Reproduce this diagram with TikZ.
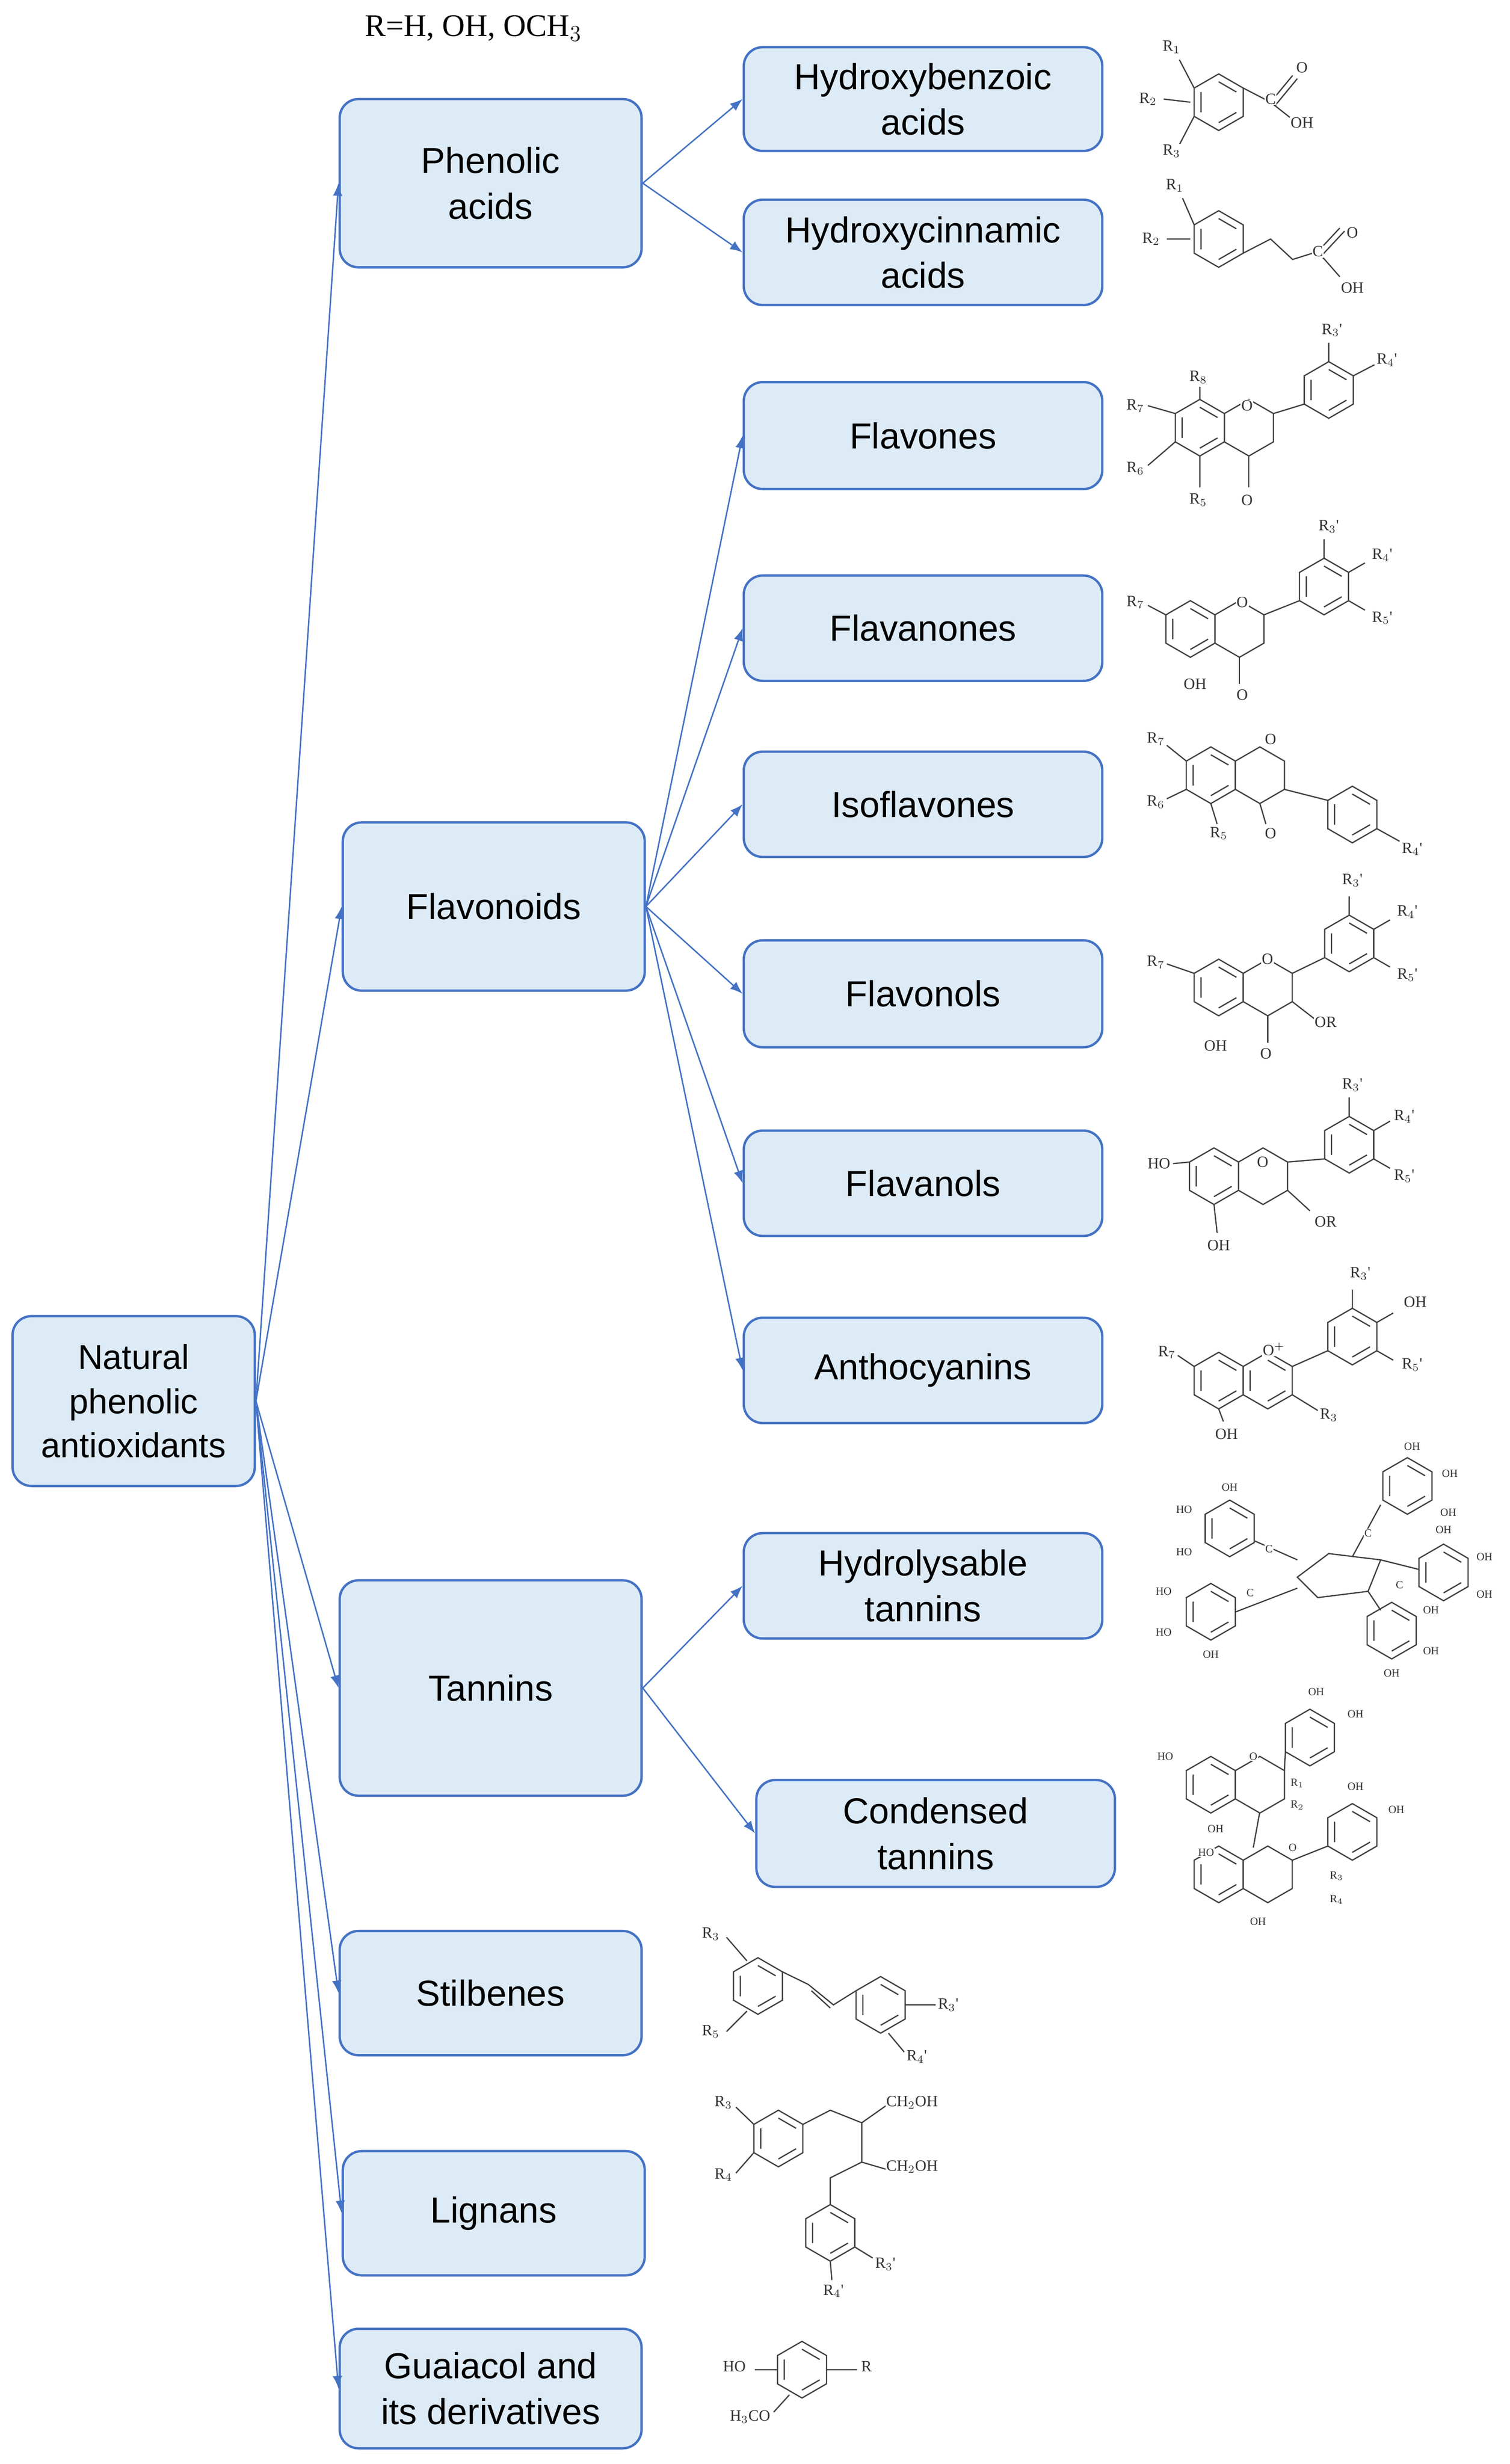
\documentclass[tikz,border=0pt]{standalone}
\usepackage{fontspec}
\setmainfont{Liberation Sans}
\newfontfamily\serif{Liberation Serif}
\usetikzlibrary{arrows.meta}
\newcommand\hx[2]{\draw[chem] (#1,#2) +(90:18)--+(30:18)--+(-30:18)--+(-90:18)--+(-150:18)--+(150:18)--cycle;
 \draw[chem] (#1,#2) +(90:13)--+(30:13) +(-30:13)--+(-90:13) +(-150:13)--+(150:13);}
\newcommand\hy[2]{\draw[chem] (#1,#2) +(90:18)--+(30:18)--+(-30:18)--+(-90:18)--+(-150:18)--+(150:18)--cycle;}
\newcommand\lb[3]{\node[lab] at (#1,#2) {#3};}
% substituent stubs on a B ring: up, upper-right, lower-right
\newcommand\bsub[2]{\draw[chem] (#1,#2) +(-90:18)--+(-90:30) +(30:18)--+(30:30) +(-30:18)--+(-30:30);}
\begin{document}
\begin{tikzpicture}[x=1pt,y=-1pt,
 box/.style={draw={rgb,255:red,68;green,114;blue,196}, line width=1.5pt, fill={rgb,255:red,221;green,235;blue,247}, rounded corners=12pt, align=center, font=\fontsize{23}{29}\selectfont, inner sep=2pt},
 ar/.style={draw={rgb,255:red,68;green,114;blue,196}, line width=0.9pt, -{Latex[length=8pt,width=6pt]}},
 chem/.style={line width=0.8pt, black!75},
 lab/.style={font=\serif\fontsize{10}{11}\selectfont, inner sep=0.5pt, fill=white, text=black!80}]
\useasboundingbox (0,0) rectangle (960,1567);
\node[font=\serif\fontsize{20}{22}\selectfont] at (301,18) {R=H, OH, OCH$_3$};
% boxes
\node[box, minimum width=154pt, minimum height=108pt, font=\fontsize{22}{28}\selectfont] (root) at (85,891) {Natural\\phenolic\\antioxidants};
\node[box, minimum width=192pt, minimum height=107pt] (pa) at (312,116.5) {Phenolic\\acids};
\node[box, minimum width=192pt, minimum height=107pt] (fl) at (314,576.5) {Flavonoids};
\node[box, minimum width=192pt, minimum height=137pt] (ta) at (312,1073.5) {Tannins};
\node[box, minimum width=192pt, minimum height=79pt] (st) at (312,1267.5) {Stilbenes};
\node[box, minimum width=192pt, minimum height=79pt] (li) at (314,1407.5) {Lignans};
\node[box, minimum width=192pt, minimum height=76pt] (gu) at (312,1519) {Guaiacol and\\its derivatives};
\node[box, minimum width=228pt, minimum height=66pt] (hb) at (587,63) {Hydroxybenzoic\\acids};
\node[box, minimum width=228pt, minimum height=67pt] (hc) at (587,160.5) {Hydroxycinnamic\\acids};
\node[box, minimum width=228pt, minimum height=68pt] (f1) at (587,277) {Flavones};
\node[box, minimum width=228pt, minimum height=67pt] (f2) at (587,399.5) {Flavanones};
\node[box, minimum width=228pt, minimum height=67pt] (f3) at (587,511.5) {Isoflavones};
\node[box, minimum width=228pt, minimum height=68pt] (f4) at (587,632) {Flavonols};
\node[box, minimum width=228pt, minimum height=67pt] (f5) at (587,752.5) {Flavanols};
\node[box, minimum width=228pt, minimum height=67pt] (f6) at (587,871.5) {Anthocyanins};
\node[box, minimum width=228pt, minimum height=67pt] (ht) at (587,1008.5) {Hydrolysable\\tannins};
\node[box, minimum width=228pt, minimum height=68pt] (ct) at (595,1166) {Condensed\\tannins};
% arrows
\foreach \t in {pa,fl,ta,st,li,gu} \draw[ar] (root.east) -- (\t.west);
\foreach \t in {hb,hc} \draw[ar] (pa.east) -- (\t.west);
\foreach \t in {f1,f2,f3,f4,f5,f6} \draw[ar] (fl.east) -- (\t.west);
\foreach \t in {ht,ct} \draw[ar] (ta.east) -- (\t.west);
% --- chemistry ---
% hydroxybenzoic
\hx{775}{65}
\draw[chem] (790.6,56)--(808,65) (808,65)--(822,48) (811,67)--(825,50) (808,65)--(822,76);
\lb{808}{63}{C}\lb{828}{43}{O}\lb{828}{78}{OH}
\draw[chem] (759.4,56)--(750,38) (759.4,74)--(750,92) (757,65)--(740,63);
\lb{745}{30}{R$_1$}\lb{730}{63}{R$_2$}\lb{745}{96}{R$_3$}
% hydroxycinnamic
\hx{775}{152}
\draw[chem] (790.6,161)--(808,152)--(822,165)--(838,160) (838,160)--(852,145) (841,162)--(855,147) (838,160)--(852,176);
\lb{838}{160}{C}\lb{860}{148}{O}\lb{860}{183}{OH}
\draw[chem] (759.4,143)--(752,126) (757,152)--(742,152);
\lb{747}{118}{R$_1$}\lb{732}{152}{R$_2$}
% flavones
\hx{763}{272}\hy{794.2}{272}\hx{845}{248}
\draw[chem] (809.8,263)--(829.4,257) (845,230)--(845,218) (860.6,239)--(874,232);
\draw[chem] (763,254)--(763,246) (747.4,263)--(730,258) (747.4,281)--(730,296) (763,290)--(763,310);
\lb{793}{258}{O}\lb{793}{318}{O}\draw[chem](794.2,290)--(794.2,310);
\lb{762}{240}{R$_8$}\lb{722}{258}{R$_7$}\lb{722}{298}{R$_6$}\lb{762}{318}{R$_5$}\lb{847}{210}{R$_3$'}\lb{882}{229}{R$_4$'}
% flavanones
\hx{757}{400}\hy{788.2}{400}\hx{842}{373}\bsub{842}{373}
\draw[chem] (803.8,391)--(826.4,382) (741.4,391)--(730,385);
\lb{790}{383}{O}\lb{790}{442}{O}\draw[chem](788.2,418)--(788.2,435);
\lb{722}{383}{R$_7$}\lb{760}{435}{OH}\lb{845}{335}{R$_3$'}\lb{879}{353}{R$_4$'}\lb{879}{393}{R$_5$'}
% isoflavones
\hx{770}{493}\hy{801.2}{493}\hx{860}{518}
\draw[chem] (816.8,502)--(844.4,509) (875.6,527)--(890,535) (801.2,511)--(805,524);
\draw[chem] (754.4,484)--(742,474) (754.4,502)--(742,508) (770,511)--(774,524);
\lb{808}{470}{O}\lb{808}{530}{O}
\lb{735}{470}{R$_7$}\lb{735}{510}{R$_6$}\lb{775}{530}{R$_5$}\lb{898}{540}{R$_4$'}
% flavonols
\hx{775}{628}\hy{806.2}{628}\hx{858}{600}\bsub{858}{600}
\draw[chem] (821.8,619)--(842.4,609) (821.8,637)--(836,648) (759.4,619)--(742,613);
\lb{806}{610}{O}\lb{805}{670}{O}\draw[chem](806.2,646)--(806.2,663);
\lb{735}{612}{R$_7$}\lb{773}{665}{OH}\lb{843}{650}{OR}\lb{860}{560}{R$_3$'}\lb{895}{580}{R$_4$'}\lb{895}{620}{R$_5$'}
% flavanols
\hx{772}{748}\hy{803.2}{748}\hx{858}{728}\bsub{858}{728}
\draw[chem] (818.8,739)--(842.4,737) (818.8,757)--(833,770) (756.4,739)--(746,740) (772,766)--(774,784);
\lb{803}{739}{O}
\lb{737}{740}{HO}\lb{775}{792}{OH}\lb{843}{777}{OR}\lb{860}{690}{R$_3$'}\lb{893}{710}{R$_4$'}\lb{893}{748}{R$_5$'}
% anthocyanins
\hx{775}{878}\hx{806.2}{878}\hx{860}{850}\bsub{860}{850}
\draw[chem] (821.8,869)--(844.4,859) (821.8,887)--(838,897) (759.4,869)--(749,862) (775,896)--(778,904);
\lb{810}{858}{O$^{+}$}
\lb{742}{860}{R$_7$}\lb{780}{912}{OH}\lb{845}{900}{R$_3$}\lb{865}{810}{R$_3$'}\lb{900}{828}{OH}\lb{898}{868}{R$_5$'}
% hydrolysable tannins
\begin{scope}[lab/.append style={font=\serif\fontsize{7}{8}\selectfont}]
\draw[chem] (825,1003)--(845,988)--(878,992)--(870,1012)--(838,1016)--cycle;
\hx{782}{972}\hx{895}{945}\hx{770}{1025}\hx{918}{1000}\hx{885}{1037}
\draw[chem] (798,980)--(825,992) (786,1025)--(825,1010) (878,992)--(902,998) (870,1012)--(878,1024) (860,990)--(878,957);
\lb{807}{985}{C}\lb{795}{1013}{C}\lb{870}{975}{C}\lb{890}{1008}{C}
\lb{753}{960}{HO}\lb{753}{987}{HO}\lb{782}{946}{OH}\lb{740}{1012}{HO}\lb{740}{1038}{HO}\lb{770}{1052}{OH}
\lb{898}{920}{OH}\lb{922}{937}{OH}\lb{921}{962}{OH}\lb{918}{973}{OH}\lb{944}{990}{OH}\lb{944}{1014}{OH}\lb{910}{1024}{OH}\lb{910}{1050}{OH}\lb{885}{1064}{OH}
% condensed tannins
\hx{770}{1135}\hy{801.2}{1135}\hx{833}{1105}
\hx{775}{1192}\hy{806.2}{1192}\hx{860}{1165}
\draw[chem] (816.8,1126)--(817.4,1114) (801,1153)--(797,1175) (821.8,1183)--(844.4,1174);
\lb{797}{1117}{O}\lb{822}{1175}{O}
\lb{741}{1117}{HO}\lb{773}{1163}{OH}\lb{837}{1076}{OH}\lb{862}{1090}{OH}\lb{825}{1134}{R$_1$}\lb{825}{1148}{R$_2$}
\lb{767}{1178}{HO}\lb{800}{1222}{OH}\lb{862}{1136}{OH}\lb{888}{1151}{OH}\lb{850}{1193}{R$_3$}\lb{850}{1208}{R$_4$}
\end{scope}
% stilbenes
\hx{482}{1263}\hx{560}{1275}
\draw[chem] (497.6,1254)--(514,1262)--(530,1275)--(544.4,1266) (516,1266)--(528,1277);
\draw[chem] (475,1247)--(462,1232) (475,1279)--(462,1292) (575.6,1275)--(595,1275) (565,1293)--(575,1305);
\lb{452}{1230}{R$_3$}\lb{452}{1292}{R$_5$}\lb{603}{1275}{R$_3$'}\lb{583}{1308}{R$_4$'}
% lignans
\hx{495}{1360}\hx{528}{1420}
\draw[chem] (510.6,1351)--(528,1342)--(548,1350)--(565,1338) (548,1350)--(548,1375)--(565,1380) (548,1375)--(528,1385)--(528,1402);
\draw[chem] (479.4,1351)--(468,1340) (479.4,1369)--(468,1382) (543.6,1429)--(555,1436) (528,1438)--(529,1450);
\lb{460}{1337}{R$_3$}\lb{460}{1383}{R$_4$}\lb{580}{1337}{CH$_2$OH}\lb{580}{1378}{CH$_2$OH}\lb{563}{1440}{R$_3$'}\lb{530}{1457}{R$_4$'}
% guaiacol
\hx{510}{1507}
\draw[chem] (494.4,1507)--(480,1507) (502,1523)--(492,1534) (525.6,1507)--(545,1507);
\lb{467}{1505}{HO}\lb{477}{1537}{H$_3$CO}\lb{551}{1505}{R}
\end{tikzpicture}
\end{document}
